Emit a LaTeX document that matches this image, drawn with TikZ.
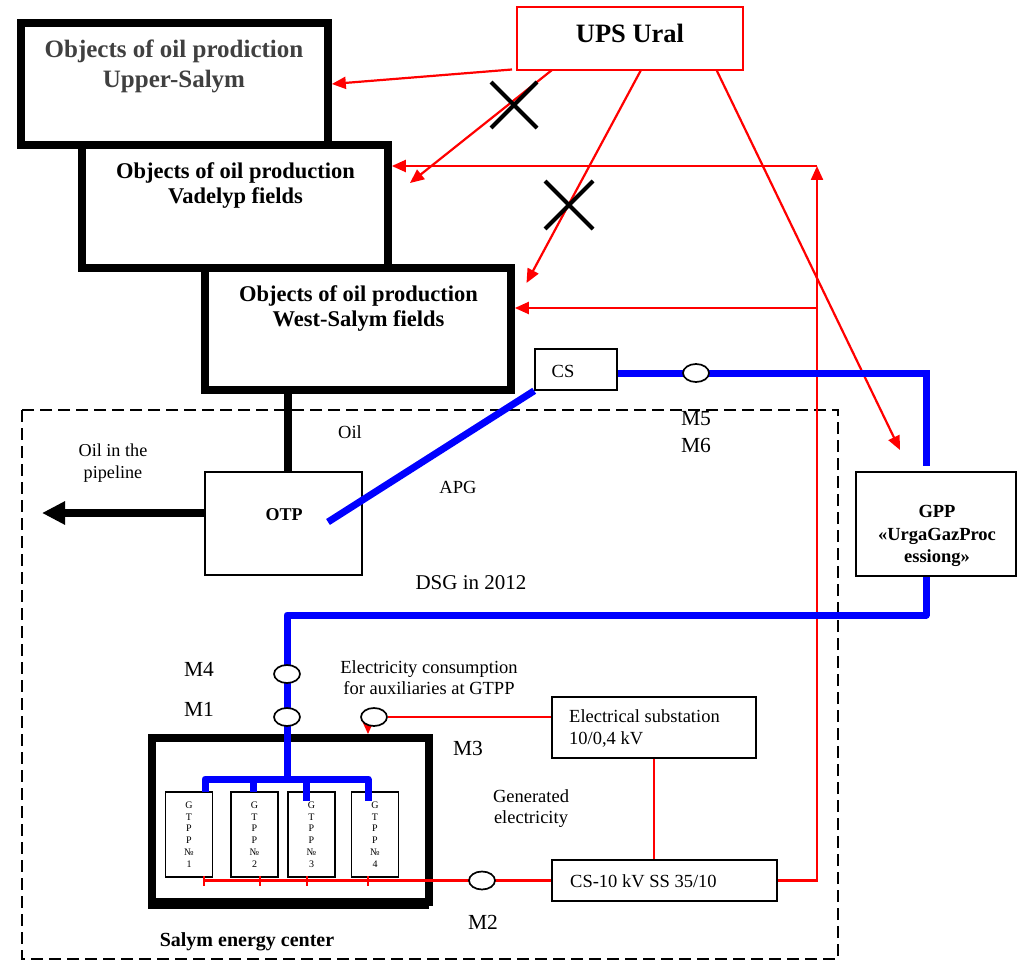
\documentclass[tikz,border=0pt]{standalone}
\usepackage{fontspec}
\setmainfont{Liberation Serif}
\usetikzlibrary{arrows.meta,shapes.geometric,shapes.misc}
\definecolor{fieldgrey}{RGB}{64,64,64}
\definecolor{gasblue}{RGB}{0,0,255}
\definecolor{pwrred}{RGB}{255,0,0}

\tikzset{
  fieldbox/.style={draw, line width=7.7pt, fill=white, inner sep=0pt},
  plainbox/.style={draw, line width=1.6pt, fill=white, inner sep=0pt},
  meter/.style={draw, ellipse, line width=1.7pt, fill=white, inner sep=0pt,
    minimum width=26pt, minimum height=18pt},
  pwr/.style={color=pwrred, line width=2.2pt},
  pwrarrow/.style={pwr, -{Triangle[length=14pt,width=12pt]}},
  gas/.style={draw=gasblue, line width=7pt},
  oilline/.style={draw=black, line width=7.5pt},
  crossmark/.style={draw, cross out, line width=4pt, inner sep=0pt,
    minimum width=#1, minimum height=#1},
  txt/.style={inner sep=0pt, align=center, font=\fontsize{18.5}{21}\selectfont},
  mtxt/.style={inner sep=0pt, align=center, font=\fontsize{21.5}{27}\selectfont},
  headtxt/.style={inner sep=0pt, align=center},
  gtpp/.style={plainbox, minimum width=47pt, minimum height=85pt,
    align=center, font=\fontsize{10}{11.7}\selectfont},
}

\begin{document}
\begin{tikzpicture}[x=1pt,y=-1pt]
\useasboundingbox (0,0) rectangle (1018,963);
\fill[white] (0,0) rectangle (1018,963);

% boundary of the distributed generation site
\draw[line width=2pt, dash pattern=on 12pt off 6pt] (22,410) rectangle (838,959);

% oil production fields
\node[fieldbox, minimum width=307pt, minimum height=122pt] (us) at (174.5,84) {};
\node[fieldbox, minimum width=306pt, minimum height=123pt] (vad) at (235,206.5) {};
\node[fieldbox, minimum width=306pt, minimum height=122pt] (ws) at (358,329) {};
\node[headtxt, text=fieldgrey, font=\fontsize{25}{30}\selectfont\bfseries] (us-t) at (174,66)
  {Objects of oil prodiction\\Upper-Salym};
\node[headtxt, font=\fontsize{22.5}{25}\selectfont\bfseries] (vad-t) at (235.5,185.5)
  {Objects of oil production\\Vadelyp fields};
\node[headtxt, font=\fontsize{22.5}{25}\selectfont\bfseries] (ws-t) at (358.5,308.5)
  {Objects of oil production\\West-Salym fields};

% power system
\node[draw=pwrred, line width=1.5pt, fill=white, inner sep=0pt,
  minimum width=226pt, minimum height=63pt] (ups) at (630,38.5) {};
\node[headtxt, font=\fontsize{26.5}{30}\selectfont\bfseries] (ups-t) at (630,33) {UPS Ural};

% compressor station, oil treatment, gas processing
\node[plainbox, minimum width=82pt, minimum height=41pt] (cs) at (576,369.5) {};
\node[txt] (cs-t) at (563,371) {CS};
\node[plainbox, minimum width=157pt, minimum height=103pt] (otp) at (283.5,523.5) {};
\node[headtxt, font=\fontsize{18}{21}\selectfont\bfseries] (otp-t) at (284,515) {OTP};
\node[plainbox, minimum width=160pt, minimum height=104pt] (gpp) at (936,524) {};
\node[headtxt, font=\fontsize{18.5}{22.5}\selectfont\bfseries] (gpp-t) at (937,536)
  {GPP\\«UrgaGazProc\\essiong»};

% energy center and its units
\node[fieldbox, minimum width=277pt, minimum height=164pt] (sec) at (290.5,820) {};
\fill (148,902) rectangle (429,909);
\node[gtpp] (t1) at (189,834.5) {G\\T\\P\\P\\№\\1};
\node[gtpp] (t2) at (254.5,834.5) {G\\T\\P\\P\\№\\2};
\node[gtpp] (t3) at (311.5,834.5) {G\\T\\P\\P\\№\\3};
\node[gtpp] (t4) at (375,834.5) {G\\T\\P\\P\\№\\4};
\node[inner sep=0pt, font=\fontsize{20}{24}\selectfont\bfseries] (sec-t) at (247,942)
  {Salym energy center};

% substations
\node[plainbox, minimum width=204pt, minimum height=61pt] (es) at (654,727.5) {};
\node[txt, align=left, anchor=west, font=\fontsize{18.5}{22}\selectfont] (es-t) at (569,728)
  {Electrical substation\\10/0,4 kV};
\node[plainbox, minimum width=225pt, minimum height=41pt] (c10) at (664.5,880.5) {};
\node[txt, anchor=west] (c10-t) at (570,881) {CS-10 kV SS 35/10};

% supply from the power system
\coordinate (ua) at (512,69.5);
\coordinate (ub) at (552,70);
\coordinate (uc) at (641,70);
\coordinate (ud) at (716.5,70);
\coordinate (vad-in) at (410,183);
\coordinate (ws-in) at (526.5,283);
\coordinate (gpp-in) at (900,450);
\draw[pwrarrow] (ua) -- (us.east);
\draw[pwrarrow] (ub) -- (vad-in);
\draw[pwrarrow] (uc) -- (ws-in);
\draw[pwrarrow] (ud) -- (gpp-in);
\node[crossmark=42pt] (x1) at (514,105) {};
\node[crossmark=44pt] (x2) at (569,205) {};

% supply from the energy center
\coordinate (rt) at (817,166);
\coordinate (rm) at (817,308);
\draw[pwrarrow] (c10.east) -| (rt);
\draw[pwrarrow] (rt) -- (rt -| vad.east);
\draw[pwrarrow] (rm) -- (rm -| ws.east);
\coordinate (bus0) at (204,880.5);
\draw[pwr] (bus0) -- (c10.west);
\foreach \x in {204,260,307,368} \draw[pwr] (\x,876) -- (\x,886);
\draw[pwr] (es.south) -- (es.south |- c10.north);

% oil
\coordinate (o1) at (288,394);
\draw[oilline] (o1) -- (o1 |- otp.north);
\coordinate (o2) at (205,513);
\coordinate (o3) at (42,513);
\draw[oilline, -{Triangle[length=23pt,width=22pt]}] (o2) -- (o3);

% associated and dry gas
\coordinate (apg) at (328,522);
\draw[gas] (apg) -- (cs.south west);
\coordinate (g1) at (926,373);
\coordinate (g2) at (926,466);
\draw[gas] (cs.east |- g1) -- (g1) -- (g2);
\coordinate (g3) at (926,615);
\coordinate (g4) at (287,615);
\coordinate (g5) at (287,779);
\draw[gas, line join=round] (gpp.south -| g3) -- (g3) -- (g4) -- (g5);
\coordinate (d1) at (205,792);
\coordinate (d4) at (368,801);
\draw[gas, line join=round] (d1) -- (d1 |- g5) -- (d4 |- g5) -- (d4);
\coordinate (d2) at (253,792);
\coordinate (d3) at (306,801);
\draw[gas] (d2 |- g5) -- (d2);
\draw[gas] (d3 |- g5) -- (d3);

% auxiliaries feed
\coordinate (auxd) at (368,722);
\draw[pwr, -{Triangle[length=13pt,width=11pt]}] (auxd) -- (auxd |- sec.north);

% meters
\node[meter] (m56) at (696,373) {};
\node[meter] (m4) at (287,674) {};
\node[meter] (m1) at (287,717) {};
\node[meter] (aux) at (374,717) {};
\node[meter] (m2) at (482,880.5) {};
\draw[pwr] (aux.east) -- (aux.east -| es.west);

% labels
\node[mtxt] (m56-t) at (696,432.5) {M5\\M6};
\node[mtxt] (m4-t) at (199,669) {M4};
\node[mtxt] (m1-t) at (199,709) {M1};
\node[mtxt] (m3-t) at (468,748) {M3};
\node[mtxt] (m2-t) at (483,922) {M2};
\node[txt] (oil-t) at (350,432) {Oil};
\node[txt, font=\fontsize{18.2}{21.5}\selectfont] (pipe-t) at (113,463) {Oil in the\\pipeline};
\node[txt] (apg-t) at (458,487) {APG};
\node[txt, font=\fontsize{21}{24}\selectfont] (dsg-t) at (471,583) {DSG in 2012};
\node[txt] (aux-t) at (429,677.5) {Electricity consumption\\for auxiliaries at GTPP};
\node[txt] (gen-t) at (531,808.5) {Generated\\electricity};
\end{tikzpicture}
\end{document}
